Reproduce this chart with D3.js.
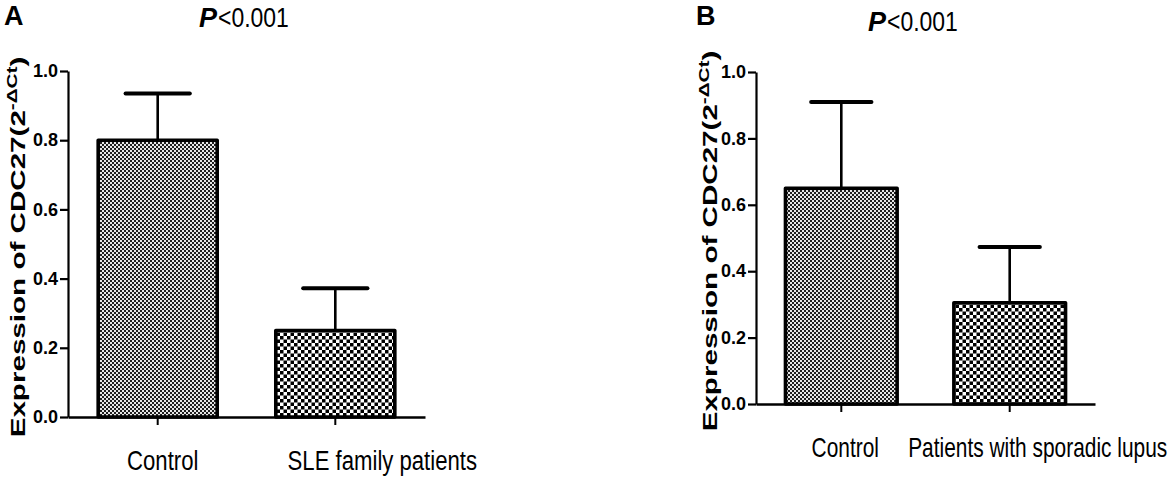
<!DOCTYPE html>
<html>
<head>
<meta charset="utf-8">
<script src="https://cdn.jsdelivr.net/npm/d3@7"></script>
<style>
  body { margin: 0; background: #fff; }
  svg { display: block; }
</style>
</head>
<body>
<script>
// values
const catsA = ["Control", "SLE family patients"];
const meanA = [0.80, 0.25];
const sdA = [0.135, 0.122];

const catsB = ["Control", "Patients with sporadic lupus"];
const meanB = [0.65, 0.305];
const sdB = [0.26, 0.168];

const yTicks = [0, 0.2, 0.4, 0.6, 0.8, 1.0];
const yLabel = ["Expression of CDC27(2", "-ΔCt", ")"];
const pLabel = ["P", "<0.001"];
const panelNames = ["A", "B"];

const width = 1172;
const height = 480;

let svg = d3.select('body')
    .append('svg')
    .attr('width', width)
    .attr('height', height);

// fill patterns for the bars
let defs = svg.append('defs');

let fine = defs.append('pattern')
    .attr('id', 'fine')
    .attr('width', 4).attr('height', 4)
    .attr('patternUnits', 'userSpaceOnUse');
fine.append('rect').attr('width', 4).attr('height', 4).attr('fill', '#1e1e1e');
fine.append('rect').attr('width', 2).attr('height', 2).attr('fill', '#e6e6e6');
fine.append('rect').attr('x', 2).attr('y', 2).attr('width', 2).attr('height', 2).attr('fill', '#e6e6e6');

let coarse = defs.append('pattern')
    .attr('id', 'coarse')
    .attr('width', 7).attr('height', 7)
    .attr('patternUnits', 'userSpaceOnUse');
coarse.append('rect').attr('width', 7).attr('height', 7).attr('fill', '#fff');
coarse.append('rect').attr('width', 3.5).attr('height', 3.5).attr('fill', '#000');
coarse.append('rect').attr('x', 3.5).attr('y', 3.5).attr('width', 3.5).attr('height', 3.5).attr('fill', '#000');

const fills = ['url(#fine)', 'url(#coarse)'];

// text with a stretch, the figure's type is squeezed
let addText = function(parent, x, y, str, o){
    let g = parent.append('g')
        .attr('transform', `translate(${x},${y}) rotate(${o.rot || 0}) scale(${o.sx || 1},${o.sy || 1})`);
    return g.append('text')
        .attr('text-anchor', o.anchor || 'start')
        .attr('font-family', 'Liberation Sans, Arial, sans-serif')
        .attr('font-size', o.size)
        .attr('font-weight', o.weight || 'normal')
        .attr('font-style', o.style || 'normal')
        .attr('fill', '#000')
        .text(str);
};

let panel = function(cats, means, sds, L){
    let x = d3.scaleBand()
        .domain(cats)
        .range([L.x0, L.x1])
        .paddingInner(L.pi)
        .paddingOuter(L.po);

    let y = d3.scaleLinear()
        .domain([0, 1])
        .range([L.y0, L.y1]);

    let g = svg.append('g');

    // bars
    g.selectAll('rect.bar')
        .data(means)
        .enter()
        .append('rect')
        .attr('class', 'bar')
        .attr('x', (d, i) => x(cats[i]))
        .attr('y', d => y(d))
        .attr('width', x.bandwidth())
        .attr('height', d => y(0) - y(d))
        .attr('fill', (d, i) => fills[i])
        .attr('stroke', '#000')
        .attr('stroke-width', 3.6)
        .attr('stroke-linejoin', 'round');

    // error bars, upper half only
    let cap = x.bandwidth() * 0.54;
    g.selectAll('line.err')
        .data(means)
        .enter()
        .append('line')
        .attr('x1', (d, i) => x(cats[i]) + x.bandwidth() / 2)
        .attr('x2', (d, i) => x(cats[i]) + x.bandwidth() / 2)
        .attr('y1', d => y(d))
        .attr('y2', (d, i) => y(d + sds[i]))
        .attr('stroke', '#000')
        .attr('stroke-width', 2.6);
    g.selectAll('line.cap')
        .data(means)
        .enter()
        .append('line')
        .attr('x1', (d, i) => x(cats[i]) + x.bandwidth() / 2 - cap / 2)
        .attr('x2', (d, i) => x(cats[i]) + x.bandwidth() / 2 + cap / 2)
        .attr('y1', (d, i) => y(d + sds[i]))
        .attr('y2', (d, i) => y(d + sds[i]))
        .attr('stroke', '#000')
        .attr('stroke-width', 4)
        .attr('stroke-linecap', 'round');

    // axes
    let ay = g.append('g')
        .attr('transform', `translate(${L.x0},0)`)
        .call(d3.axisLeft(y)
            .tickValues(yTicks)
            .tickFormat(d3.format('.1f'))
            .tickSize(8)
            .tickSizeOuter(0)
            .tickPadding(2));
    ay.select('.domain').attr('stroke-width', 2.2);
    ay.selectAll('.tick line').attr('stroke-width', 2.2);
    ay.selectAll('.tick text')
        .attr('font-family', 'Liberation Sans, Arial, sans-serif')
        .attr('font-size', 18)
        .attr('font-weight', 'bold')
        .attr('fill', '#000');

    let ax = g.append('g')
        .attr('transform', `translate(0,${L.y0})`)
        .call(d3.axisBottom(x).tickSize(8).tickSizeOuter(0).tickFormat(''));
    ax.select('.domain').attr('stroke-width', 2.4);
    ax.selectAll('.tick line').attr('stroke-width', 2);

    // category labels
    cats.forEach(function(c, i){
        addText(g, x(c) + x.bandwidth() / 2 + L.labelDx[i], L.labelY, c,
            {size: L.labelSize, sx: 0.82, sy: 1.05, anchor: 'middle'});
    });

    // y label
    let t = addText(g, L.yLabX, (L.y0 + L.y1) / 2 + 3, '', {size: 20, weight: 'bold', rot: -90, sx: 1.48, anchor: 'middle'});
    t.append('tspan').text(yLabel[0]);
    t.append('tspan').attr('font-size', 14).attr('dy', -8).text(yLabel[1]);
    t.append('tspan').attr('dy', 8).text(yLabel[2]);

    // panel letter and p value
    addText(g, L.letterX, 25, L.name, {size: 27, weight: 'bold'});
    addText(g, L.pX, L.pY, pLabel[0], {size: 27, weight: 'bold', style: 'italic'});
    addText(g, L.pX + 19, L.pY, pLabel[1], {size: 28, sx: 0.82});
};

panel(catsA, meanA, sdA, {
    name: panelNames[0], x0: 68, x1: 425, y0: 417, y1: 71, pi: 0.33, po: 0.17,
    labelDx: [5, 47], labelY: 470, labelSize: 27, yLabX: 25, letterX: 4, pX: 199, pY: 27
});
panel(catsB, meanB, sdB, {
    name: panelNames[1], x0: 756, x1: 1095, y0: 404, y1: 72, pi: 0.337, po: 0.175,
    labelDx: [4, 28], labelY: 457, labelSize: 25.5, yLabX: 717, letterX: 696, pX: 868, pY: 31
});
</script>
</body>
</html>
